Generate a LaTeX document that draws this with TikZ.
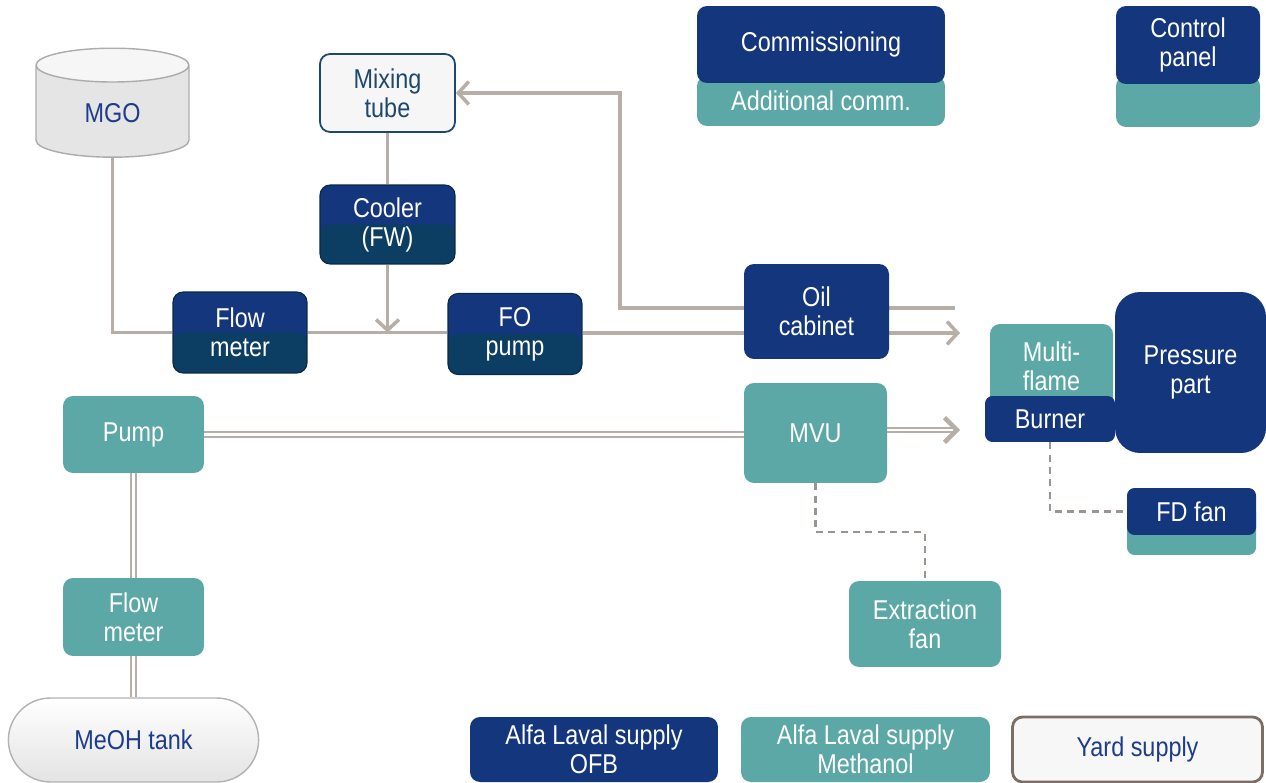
\documentclass[tikz,border=0pt]{standalone}
\usepackage{fontspec}
\setmainfont{Liberation Sans}[FakeStretch=0.86]
\usepackage{tikz}
\usetikzlibrary{positioning}
\usetikzlibrary{shapes.geometric}
\usetikzlibrary{shapes.misc}
\usetikzlibrary{arrows.meta}
\usetikzlibrary{backgrounds}

\definecolor{ofbblue}{RGB}{19,54,124}
\definecolor{ofbdark}{RGB}{11,62,98}
\definecolor{meohteal}{RGB}{92,168,166}
\definecolor{pipegray}{RGB}{183,174,167}
\definecolor{txtblue}{RGB}{30,60,140}
\definecolor{mixtext}{RGB}{28,72,112}
\definecolor{yardbrown}{RGB}{122,110,103}

\begin{document}
\begin{tikzpicture}[x=0.02cm, y=-0.02cm,
    font=\fontsize{15.5}{16.5}\selectfont,
    box/.style={rounded corners=0.2cm, align=center, text=white, inner sep=0pt},
    ofb/.style={box, fill=ofbblue},
    ofbtwo/.style={box, fill=ofbblue, draw=ofbdark!70!black, line width=0.6pt,
        path picture={\fill[ofbdark] (path picture bounding box.west) rectangle (path picture bounding box.south east);}},
    meoh/.style={box, fill=meohteal},
    pipe/.style={draw=pipegray, line width=2pt},
    dblpipe/.style={draw=pipegray, double=white, double distance=1.2pt, line width=1.3pt},
    signal/.style={draw=pipegray!85!black, line width=1.4pt, dash pattern=on 4pt off 3pt},
    barb/.tip={Straight Barb[length=6pt,width=13pt]},
    bigbarb/.tip={Straight Barb[length=7pt,width=14pt,line width=2.6pt]},
]
\useasboundingbox (0,0) rectangle (1266,783);

% oil side
\node[cylinder, shape border rotate=90, aspect=0.52, draw=gray!65, line width=0.8pt,
    cylinder uses custom fill, cylinder body fill=gray!20, cylinder end fill=gray!7,
    inner xsep=0pt, text width=1.3cm,
    minimum width=3.06cm, minimum height=2.18cm,
    label={[text=txtblue, yshift=-0.03cm]center:MGO}] (mgo) at (112.5,111.5) {};
\node[box, fill=gray!7, draw=mixtext, line width=1pt, text=mixtext,
    minimum width=2.7cm, minimum height=1.56cm] (mixtube) at (387.5,93) {Mixing\\tube};
\node[ofbtwo, minimum width=2.7cm, minimum height=1.58cm] (cooler) at (387.5,224.5) {Cooler\\(FW)};
\node[ofbtwo, minimum width=2.68cm, minimum height=1.62cm] (flowmeter) at (240,332.5) {Flow\\meter};
\node[ofbtwo, minimum width=2.68cm, minimum height=1.62cm] (fopump) at (515,334) {FO\\pump};
\node[ofb, minimum width=2.9cm, minimum height=1.9cm] (oilcab) at (816.5,311.5) {Oil\\cabinet};

% methanol side
\node[meoh, minimum width=2.82cm, minimum height=1.54cm] (pump) at (133.5,434.5) {Pump};
\node[meoh, minimum width=2.82cm, minimum height=1.56cm] (meohflow) at (133.5,617) {Flow\\meter};
\node[rounded rectangle, draw=gray!60, line width=0.8pt, top color=white, bottom color=gray!22,
    minimum width=5.24cm, minimum height=1.68cm, text=txtblue] (meohtank) at (133.5,740) {MeOH tank};
\node[meoh, minimum width=2.86cm, minimum height=2cm] (mvu) at (815.5,433) {MVU};
\node[meoh, minimum width=3.04cm, minimum height=1.72cm] (extfan) at (925,624) {Extraction\\fan};

% boiler
\node[meoh, minimum width=2.46cm, minimum height=2.32cm,
    label={[text=white, align=center, yshift=0.32cm]center:{Multi-\\flame}}] (multiflame) at (1051.5,382) {};
\node[ofb, rounded corners=0.15cm, minimum width=2.6cm, minimum height=0.92cm] (burner) at (1050,419) {Burner};
\node[ofb, rounded corners=0.5cm, minimum width=3.02cm, minimum height=3.22cm] (pressure) at (1190.5,372.5) {Pressure\\part};
\node[meoh, rounded corners=0.15cm, minimum width=2.58cm, minimum height=1cm] (fdbase) at (1191.5,530) {};
\node[ofb, rounded corners=0.15cm, minimum width=2.58cm, minimum height=0.94cm] (fdfan) at (1191.5,511.5) {FD fan};

% top row
\node[meoh, minimum width=4.96cm, minimum height=1cm] (addcomm) at (821,101) {Additional comm.};
\node[ofb, minimum width=4.96cm, minimum height=1.54cm] (comm) at (821,44.5) {Commissioning};
\node[meoh, minimum width=2.88cm, minimum height=1.02cm] (ctrlbase) at (1188,101.5) {};
\node[ofb, minimum width=2.88cm, minimum height=1.56cm] (ctrl) at (1188,45) {Control\\panel};

% legend
\node[ofb, minimum width=4.96cm, minimum height=1.3cm] (legofb) at (594,749.5) {Alfa Laval supply\\OFB};
\node[meoh, minimum width=4.98cm, minimum height=1.3cm] (legmeoh) at (865.5,749.5) {Alfa Laval supply\\Methanol};
\node[box, fill=gray!6, draw=yardbrown, line width=1.6pt, text=txtblue,
    minimum width=5cm, minimum height=1.3cm] (legyard) at (1137.5,749.5) {Yard supply};

\coordinate (oilout) at (960,333);
\coordinate (retin) at (955,308);
\coordinate (retup) at (620,93);
\coordinate (mvuout) at (960,430);
\coordinate (dashbend) at (925,532);

\begin{scope}[on background layer]
    \draw[pipe] (mgo.south) |- (flowmeter.west);
    \draw[pipe] (flowmeter.east) -- (fopump.west |- flowmeter.east);
    \draw[pipe] (mixtube.south) -- (cooler.north);
    \draw[pipe, -barb] (cooler.south) -- (cooler.south |- flowmeter.east);
    \draw[pipe, -barb] (fopump.east |- oilout) -- (oilout);
    \draw[pipe, -barb] (retin) -| (retup) -- (mixtube.east);
    \draw[dblpipe] (pump.east) -- (mvu.west |- pump.east);
    \draw[dblpipe, -bigbarb] (mvu.east |- mvuout) -- (mvuout);
    \draw[dblpipe] (pump.south) -- (meohflow.north);
    \draw[dblpipe] (meohflow.south) -- (meohtank.north);
    \draw[signal] (mvu.south) |- (dashbend) -- (extfan.north);
    \draw[signal] (burner.south) |- (fdfan.west);
\end{scope}
\end{tikzpicture}
\end{document}
